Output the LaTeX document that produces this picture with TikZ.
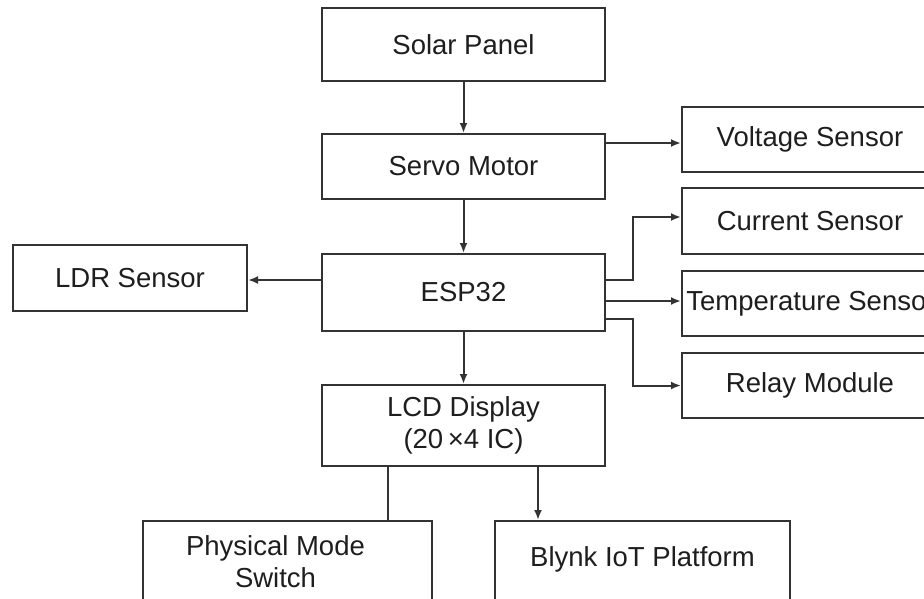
\documentclass[tikz,border=0pt]{standalone}
\usepackage{fontspec}
\setmainfont{Liberation Sans}
\usetikzlibrary{arrows.meta,calc}
\definecolor{ln}{HTML}{333333}
\definecolor{tx}{HTML}{1E1E1E}
\begin{document}
\begin{tikzpicture}[x=1pt,y=-1pt,
  box/.style={draw=ln,line width=2pt,fill=white,inner sep=0pt,align=center,
    font=\fontsize{27.5}{32}\selectfont,text=tx},
  arr/.style={draw=ln,line width=2pt,-{Latex[length=10pt,width=8pt]}},
  conn/.style={draw=ln,line width=2pt}]
\fill[white] (0,0) rectangle (924,598);
\useasboundingbox (0,0) rectangle (924,598);
\clip (0,0) rectangle (924,598);
\node[box,minimum width=283,minimum height=73] (solar) at (463.5,44.5) {Solar Panel};
\node[box,minimum width=283,minimum height=65] (servo) at (463.5,166.5) {Servo Motor};
\node[box,minimum width=283,minimum height=77] (esp) at (463.5,292.5) {ESP32};
\node[box,minimum width=283,minimum height=81] (lcd) at (463.5,425.5) {LCD Display\\(20\,×4 IC)};
\node[box,minimum width=234,minimum height=66] (ldr) at (130,278) {LDR Sensor};
\node[box,minimum width=256,minimum height=65] (volt) at (810,139.5) {Voltage Sensor};
\node[box,minimum width=256,minimum height=66] (curr) at (810,221) {Current Sensor};
\node[box,minimum width=258,minimum height=65] (temp) at (811,303.5) {Temperature Sensor};
\node[box,minimum width=256,minimum height=65] (relay) at (810,385.5) {Relay Module};
\node[box,minimum width=289,minimum height=82] (phys) at (287.5,562) {\hspace*{-24pt}Physical Mode\\\hspace*{-24pt}Switch};
\node[box,minimum width=295,minimum height=82] (blynk) at (642.5,562) {\raisebox{10pt}{Blynk IoT Platform}};
% connectors
\draw[arr] (solar.south) -- (servo.north);
\draw[arr] (servo.south) -- (esp.north);
\draw[arr] (esp.south) -- (lcd.north);
\draw[arr] ([yshift=23.5]servo.east) coordinate (s1) -- (s1 -| volt.west);
\draw[arr] ([yshift=12.5]esp.west) coordinate (e0) -- (e0 -| ldr.east);
\coordinate (bx) at (633,0);
\draw[arr] ([yshift=12.5]esp.east) coordinate (e1) -- (e1 -| bx) |- ([yshift=4]curr.west);
\draw[arr] ([yshift=-8.5]esp.east) coordinate (e2) -- (e2 -| temp.west);
\draw[arr] ([yshift=-26.5]esp.east) coordinate (e3) -- (e3 -| bx) |- (relay.west);
\coordinate (p1) at (388,0);
\coordinate (p2) at (538,0);
\draw[conn] (lcd.south -| p1) -- (phys.north -| p1);
\draw[arr] (lcd.south -| p2) -- (blynk.north -| p2);
\end{tikzpicture}
\end{document}
